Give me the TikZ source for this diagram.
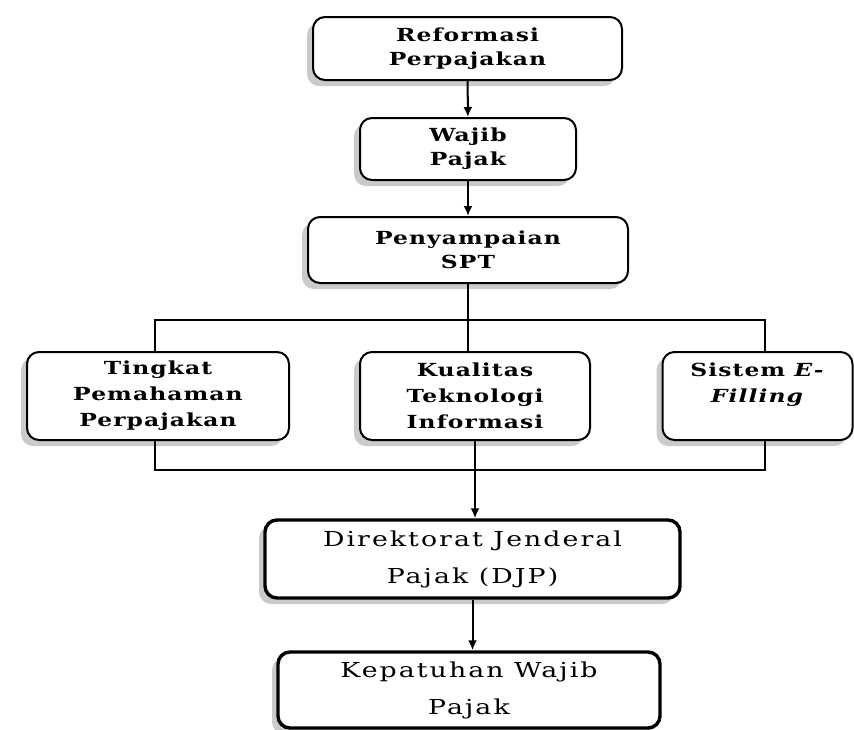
\documentclass[tikz,border=0pt]{standalone}
\usepackage{fontspec}
\newfontfamily\hurufkotak{DejaVu Serif}[FakeStretch=1.3, LetterSpace=6]
\newfontfamily\hurufbawah{DejaVu Serif}[FakeStretch=1.3, LetterSpace=10]
\usetikzlibrary{arrows.meta, positioning, shadows}

\begin{document}
\begin{tikzpicture}[>={Latex[length=5pt,width=4.5pt]}, line width=1pt, x=0.5pt, y=-0.5pt,
        kotak/.style={draw, fill=white, rounded corners=6pt, align=center, inner sep=1pt,
            font=\hurufkotak\fontsize{9}{12}\selectfont\bfseries,
            drop shadow={shadow xshift=-3pt, shadow yshift=-3pt, fill=black!35, opacity=.6}},
        kotaktebal/.style={kotak, line width=1.7pt, font=\hurufbawah\fontsize{10.3}{18.5}\selectfont}]

        \useasboundingbox (0,0) rectangle (854,729);

        \coordinate (R) at (467.5,48.5);
        \coordinate (W) at (468,149);
        \coordinate (S) at (468,250);
        \coordinate (T) at (158,396);
        \coordinate (K) at (475,396);
        \coordinate (E) at (757.5,396);
        \coordinate (D) at (472.5,559);
        \coordinate (P) at (469,690);

        \node[kotak, minimum width=154.5pt, minimum height=31.5pt] (reformasi) at (R) {Reformasi\\Perpajakan};
        \node[kotak, minimum width=108pt, minimum height=31pt] (wajib) at (W) {Wajib\\Pajak};
        \node[kotak, minimum width=160pt, minimum height=33pt] (spt) at (S) {Penyampaian\\SPT};

        \node[kotak, minimum width=131pt, minimum height=44pt, font=\hurufkotak\fontsize{9}{13}\selectfont\bfseries] (tingkat) at (T) {Tingkat\\Pemahaman\\Perpajakan};
        \node[kotak, minimum width=115pt, minimum height=44pt, font=\hurufkotak\fontsize{9}{13}\selectfont\bfseries] (kualitas) at (K) {Kualitas\\Teknologi\\Informasi};
        \node[kotak, minimum width=95pt, minimum height=44pt, font=\hurufkotak\fontsize{9}{13}\selectfont\bfseries] (efiling) at (E) {Sistem \textit{E-}\\\textit{Filling}\\~};

        \node[kotaktebal, minimum width=207.5pt, minimum height=39pt] (djp) at (D) {Direktorat Jenderal\\Pajak (DJP)};
        \node[kotaktebal, minimum width=191pt, minimum height=38pt] (kepatuhan) at (P) {Kepatuhan Wajib\\Pajak};

        % kurung atas dan bawah
        \coordinate (kiriatas) at (155,320);
        \coordinate (kananatas) at (765,320);
        \coordinate (kiribawah) at (155,470);
        \coordinate (kananbawah) at (765,470);

        \draw (kiriatas |- tingkat.north) -- (kiriatas) -- (kananatas) -- (kananatas |- efiling.north);
        \draw (kiribawah |- tingkat.south) -- (kiribawah) -- (kananbawah) -- (kananbawah |- efiling.south);

        \draw[->] (reformasi) -- (wajib);
        \draw[->] (wajib) -- (spt);
        \draw (spt.south) -- (spt.south |- kualitas.north);
        \draw[->] (kualitas.south) -- (kualitas.south |- djp.north);
        \draw[->] (djp.south) -- (djp.south |- kepatuhan.north);

    \end{tikzpicture}
\end{document}
